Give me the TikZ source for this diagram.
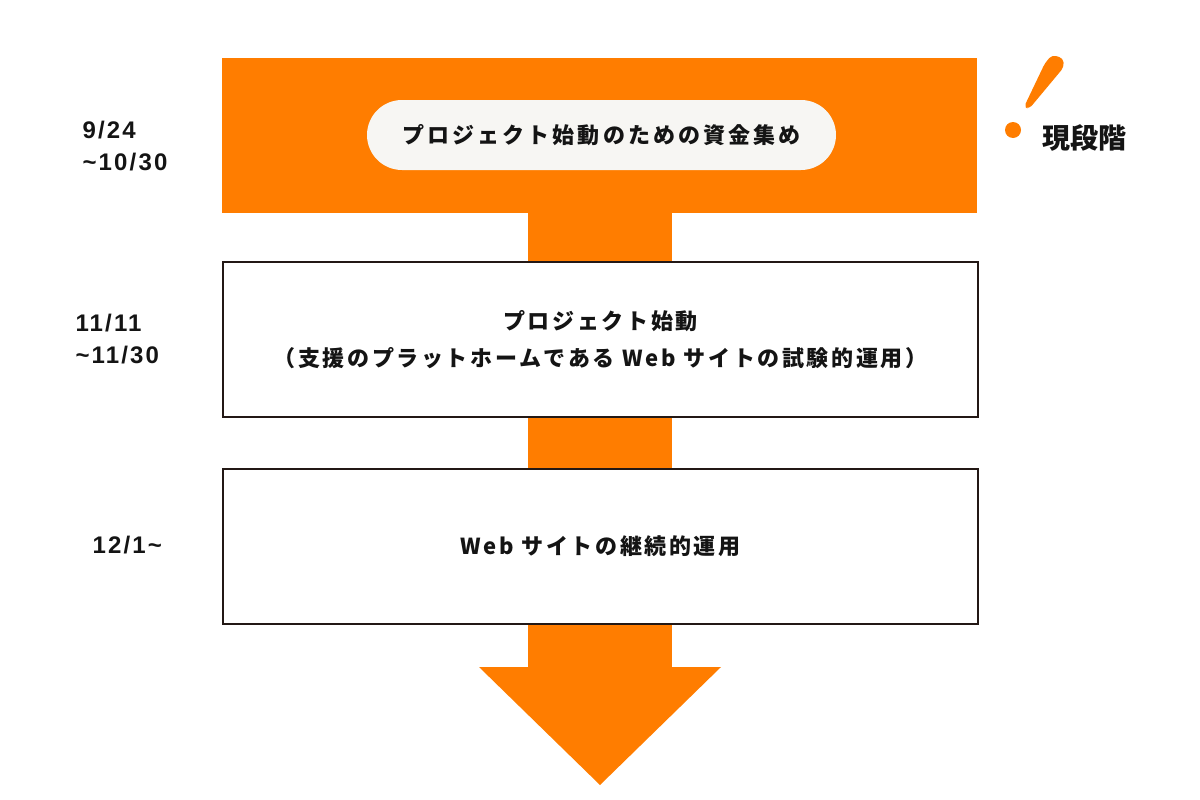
\documentclass[tikz,border=0pt]{standalone}
\usepackage{fontspec}
\setmainfont{Liberation Sans}
\newfontfamily\jp{Noto Sans CJK JP}
\definecolor{orng}{RGB}{255,125,0}
\definecolor{pill}{RGB}{247,246,243}
\definecolor{edge}{RGB}{35,24,21}
\definecolor{ink}{RGB}{20,20,20}
\tikzset{
  stage/.style={draw=edge, line width=2pt, fill=white, minimum width=755pt, minimum height=155pt, inner sep=0pt, anchor=north west, align=center, text=ink,
    font=\jp\bfseries\fontsize{22}{37}\selectfont\addfontfeature{LetterSpace=12}},
  datelbl/.style={anchor=west, align=left, text=ink, font=\bfseries\fontsize{24}{32}\selectfont\addfontfeature{LetterSpace=9}},
  flow/.style={fill=orng, draw=none}
}
\begin{document}
\begin{tikzpicture}[x=1pt,y=-1pt]
\useasboundingbox (0,0) rectangle (1200,800);
% arrow stem and head
\fill[flow] (528,213) rectangle (672,668);
\fill[flow] (479,667) -- (721,667) -- (600,785) -- cycle;
% top stage
\node[flow, minimum width=755pt, minimum height=155pt, inner sep=0pt, anchor=north west] (s1) at (222,58) {};
\node[fill=pill, rounded corners=35pt, minimum width=469pt, minimum height=70pt, inner sep=0pt, text=ink,
  font=\jp\bfseries\fontsize{22}{26}\selectfont\addfontfeature{LetterSpace=14}] (p1) at (601.5,135) {\raisebox{-2pt}{プロジェクト始動のための資金集め}};
% other stages
\node[stage] (s2) at (222,261) {プロジェクト始動\\（支援のプラットホームである Web サイトの試験的運用）};
\node[stage] (s3) at (222,468) {Web サイトの継続的運用};
% dates
\node[datelbl] (d1) at (79,146) {9/24\\\textasciitilde10/30};
\node[datelbl] (d2) at (72,339) {11/11\\\textasciitilde11/30};
\node[datelbl] (d3) at (89,545) {12/1\textasciitilde};
% exclamation mark
\fill[orng, rounded corners=4pt] (1045,63) -- (1052,55) -- (1063,58) -- (1064,67) -- (1029,109) -- (1024,107) -- cycle;
\fill[orng] (1013,130) circle (8);
\node[anchor=west, text=ink, inner sep=0pt, font=\jp\bfseries\fontsize{28}{30}\selectfont] (now) at (1042,138) {現段階};
\end{tikzpicture}
\end{document}
